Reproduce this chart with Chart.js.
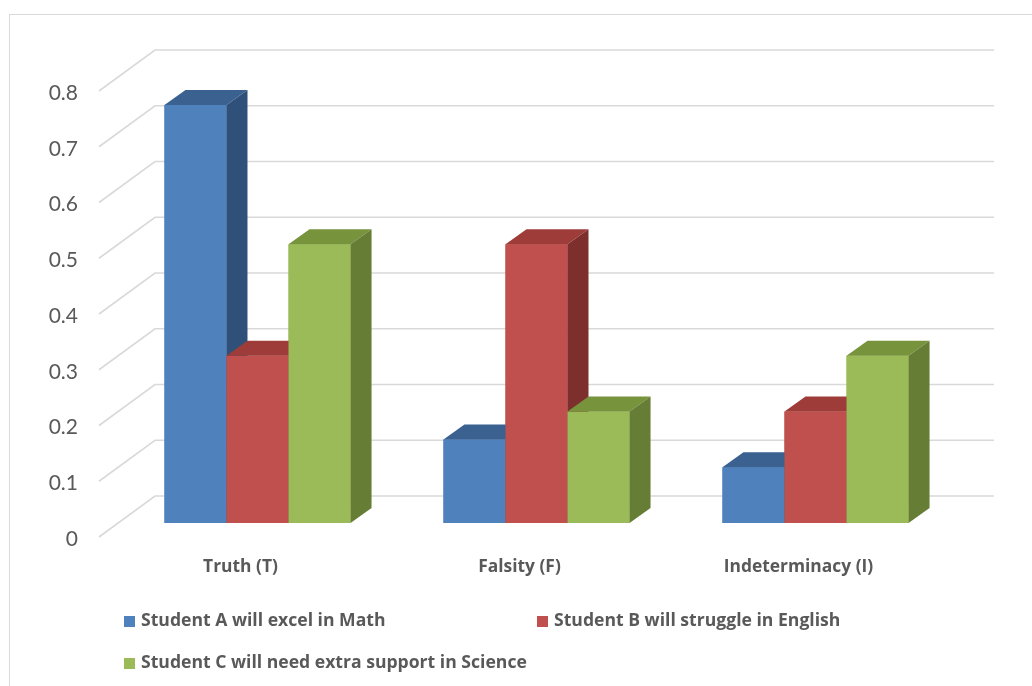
<!DOCTYPE html>
<html>
<head>
<meta charset="utf-8">
<script src="https://cdn.jsdelivr.net/npm/chart.js@4.4.0/dist/chart.umd.min.js"></script>
<style>
  html, body { margin: 0; padding: 0; background: #fff; overflow: hidden; }
  #wrap { position: relative; width: 1032px; height: 686px; }
  #frame { position: absolute; left: 9px; top: 14px; width: 1040px; height: 700px;
           border-left: 1.5px solid #d9d9d9; border-top: 1.5px solid #d9d9d9; }
  #chart3d { position: absolute; left: 0; top: 0; }
  .legItem { position: absolute; height: 22px; line-height: 22px; white-space: nowrap;
             font: bold 17.6px 'Open Sans', Lato, sans-serif; color: #595959; }
  .legItem span { display: inline-block; width: 11px; height: 11px; margin-right: 6px; vertical-align: -1px; }
</style>
</head>
<body>
<div id="wrap">
  <div id="frame"></div>
  <canvas id="chart3d" width="1032" height="686"></canvas>
  <div id="legend"></div>
</div>
<script>
// kategorier och serier
const categories = ['Truth (T)', 'Falsity (F)', 'Indeterminacy (I)'];
const seriesNames = [
  'Student A will excel in Math',
  'Student B will struggle in English',
  'Student C will need extra support in Science'
];
const studentA = [0.75, 0.15, 0.1];
const studentB = [0.3, 0.5, 0.2];
const studentC = [0.5, 0.2, 0.3];
const yTicks = [0, 0.1, 0.2, 0.3, 0.4, 0.5, 0.6, 0.7, 0.8];

// färger: framsida, topp, sida
const frontColors = ['#4f81bd', '#c0504d', '#9bbb59'];
const topColors = ['#3b6191', '#9e3c3a', '#77933c'];
const sideColors = ['#2f5179', '#7c2f2d', '#667d36'];

// djup för staplar och golv/vägg
const barDX = 21, barDY = -15;
const frontDX = -19, frontDY = 14;   // från stapelplan till golvkant
const backDX = 37, backDY = -27;     // från stapelplan till bakvägg

//Ritar rutnät i 3D före staplarna
const grid3d = {
  id: 'grid3d',
  beforeDatasetsDraw(chart) {
    const ctx = chart.ctx;
    const y = chart.scales.y;
    const area = chart.chartArea;
    ctx.save();
    ctx.strokeStyle = '#d9d9d9';
    ctx.lineWidth = 1.6;
    yTicks.forEach((v) => {
      const py = y.getPixelForValue(v);
      ctx.beginPath();
      ctx.moveTo(area.left + frontDX, py + frontDY);
      ctx.lineTo(area.left + backDX, py + backDY);
      ctx.lineTo(area.right + backDX + 2, py + backDY);
      ctx.stroke();
    });
    ctx.restore();
  },
  //Ritar staplar med topp och sida, vänster till höger
  afterDatasetsDraw(chart) {
    const ctx = chart.ctx;
    ctx.save();
    categories.forEach((c, i) => {
      chart.data.datasets.forEach((ds, d) => {
        const el = chart.getDatasetMeta(d).data[i];
        const x0 = el.x - el.width / 2;
        const x1 = el.x + el.width / 2;
        const top = el.y;
        const base = el.base;

        ctx.fillStyle = frontColors[d];
        ctx.fillRect(x0, top, x1 - x0, base - top);

        ctx.fillStyle = topColors[d];
        ctx.beginPath();
        ctx.moveTo(x0, top);
        ctx.lineTo(x0 + barDX, top + barDY);
        ctx.lineTo(x1 + barDX, top + barDY);
        ctx.lineTo(x1, top);
        ctx.closePath();
        ctx.fill();

        ctx.fillStyle = sideColors[d];
        ctx.beginPath();
        ctx.moveTo(x1, top);
        ctx.lineTo(x1 + barDX, top + barDY);
        ctx.lineTo(x1 + barDX, base + barDY);
        ctx.lineTo(x1, base);
        ctx.closePath();
        ctx.fill();
      });
    });
    ctx.restore();
  }
};

const chartData = {
  labels: categories,
  datasets: [
    { label: seriesNames[0], data: studentA, backgroundColor: frontColors[0] },
    { label: seriesNames[1], data: studentB, backgroundColor: frontColors[1] },
    { label: seriesNames[2], data: studentC, backgroundColor: frontColors[2] },
  ],
};

const chart = new Chart(document.getElementById('chart3d'), {
  type: 'bar',
  data: chartData,
  options: {
    responsive: false,
    animation: false,
    categoryPercentage: 0.667,
    barPercentage: 1,
    layout: { padding: { top: 77, right: 77, left: 0, bottom: 0 } },
    plugins: {
      legend: { display: false },
      tooltip: { enabled: false },
    },
    scales: {
      y: {
        min: 0,
        max: 0.8,
        afterFit: (s) => { s.width = 118; },
        afterBuildTicks: (s) => { s.ticks = yTicks.map((v) => ({ value: v })); },
        ticks: {
          padding: 32,
          labelOffset: frontDY + 2,
          color: '#595959',
          font: { size: 21, family: 'Lato, "Open Sans", sans-serif' },
          callback: (v) => String(+Number(v).toFixed(1)),
        },
        grid: { display: false },
        border: { display: false },
      },
      x: {
        afterFit: (s) => { s.height = 163; },
        ticks: {
          padding: 26,
          labelOffset: frontDX + 2,
          color: '#595959',
          font: { size: 17.4, weight: 'bold', family: '"Open Sans", Lato, sans-serif' },
        },
        grid: { display: false },
        border: { display: false },
      },
    },
  },
  plugins: [grid3d],
});

//Legend som html
const legendPos = [[124, 607], [537, 607], [124, 649]];
chart.data.datasets.forEach((ds, d) => {
  const div = document.createElement('div');
  div.className = 'legItem';
  div.style.left = legendPos[d][0] + 'px';
  div.style.top = legendPos[d][1] + 'px';
  div.innerHTML = `<span style="background:${ds.backgroundColor}"></span>${ds.label}`;
  document.querySelector('#legend').appendChild(div);
});
</script>
</body>
</html>
